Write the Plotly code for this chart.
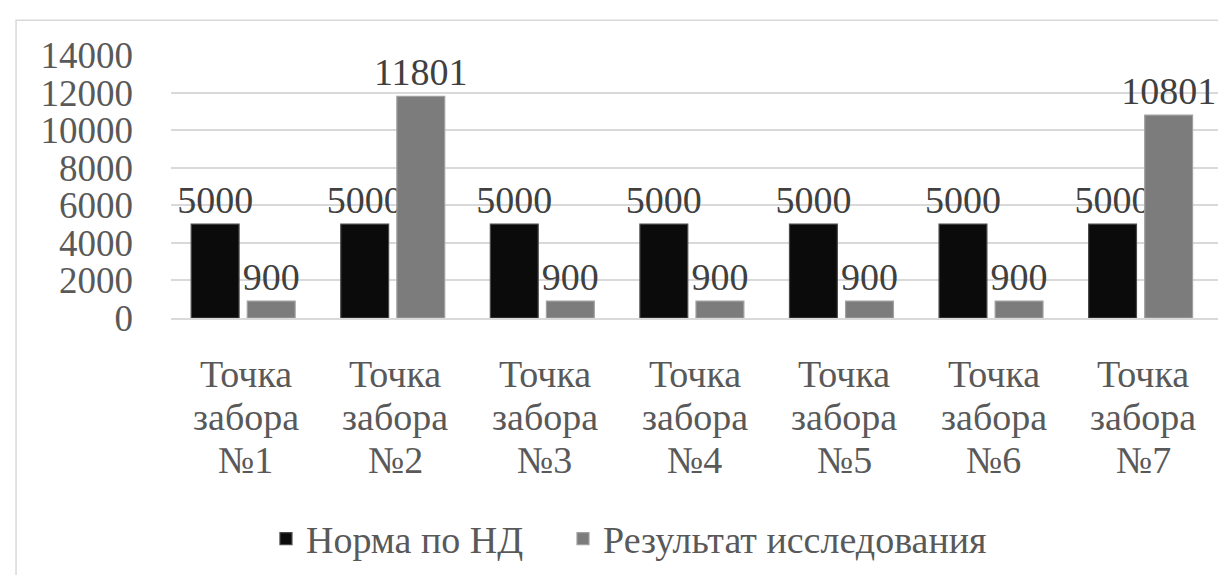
import plotly.graph_objects as go

# sampling points and the two series
categories = ["Точка<br>забора<br>№1", "Точка<br>забора<br>№2", "Точка<br>забора<br>№3",
              "Точка<br>забора<br>№4", "Точка<br>забора<br>№5", "Точка<br>забора<br>№6",
              "Точка<br>забора<br>№7"]
norm_values = [5000, 5000, 5000, 5000, 5000, 5000, 5000]
result_values = [900, 11801, 900, 900, 900, 900, 10801]
series_names = ["Норма по НД", "Результат исследования"]
y_ticks = [0, 2000, 4000, 6000, 8000, 10000, 12000, 14000]

FONT = "Liberation Serif"

fig = go.Figure()
fig.add_trace(go.Bar(
    x=categories, y=norm_values, name=series_names[0], legend="legend",
    marker=dict(color="#0b0b0b", line=dict(color="#4a4a4a", width=1.2)),
    text=norm_values, textposition="outside", constraintext="none", cliponaxis=False,
    textfont=dict(family=FONT, size=38, color="#404040"),
    width=0.32, offset=-0.365,
))
fig.add_trace(go.Bar(
    x=categories, y=result_values, name=series_names[1], legend="legend2",
    marker=dict(color="#7c7c7c", line=dict(color="#a0a0a0", width=1.2)),
    text=result_values, textposition="outside", constraintext="none", cliponaxis=False,
    textfont=dict(family=FONT, size=38, color="#404040"),
    width=0.32, offset=0.01,
))

# category labels: Excel spaces the wrapped lines tighter than plotly ticks do
annotations = []
for cat in categories:
    for i, line in enumerate(cat.split("<br>")):
        annotations.append(dict(x=cat, y=0, xref="x", yref="paper", text=line,
                                showarrow=False, yanchor="middle", yshift=-(56 + 43 * i),
                                font=dict(family=FONT, size=38, color="#595959")))

legend_style = dict(orientation="h", xanchor="left", y=-0.72, yanchor="top",
                    font=dict(family=FONT, size=38, color="#595959"),
                    itemwidth=30, bgcolor="rgba(0,0,0,0)")

my_layout = go.Layout()
my_layout.width = 1226
my_layout.height = 575
my_layout.margin = {"l": 163, "r": 16, "t": 47, "b": 255}
my_layout.paper_bgcolor = "white"
my_layout.plot_bgcolor = "white"
my_layout.font = dict(family=FONT, size=38, color="#595959")
my_layout.showlegend = True
my_layout.legend = dict(x=0.0907, **legend_style)
my_layout.legend2 = dict(x=0.3744, **legend_style)
my_layout.yaxis = dict(range=[0, 14000], tickvals=y_ticks, ticktext=[str(v) for v in y_ticks],
                       showgrid=True, gridcolor="#d9d9d9", gridwidth=1.5, zeroline=False,
                       showline=False, ticks="", ticklabelstandoff=37,
                       tickfont=dict(family=FONT, size=37, color="#595959"))
my_layout.xaxis = dict(showline=True, linecolor="#d9d9d9", linewidth=1.5, ticks="",
                       showticklabels=False)
my_layout.annotations = annotations
# chart area border
my_layout.shapes = [dict(type="rect", xref="paper", yref="paper", x0=-0.148, x1=1.2,
                         y0=-1.5, y1=1.132, line=dict(color="#d9d9d9", width=1.5),
                         fillcolor="rgba(0,0,0,0)", layer="below")]

fig.update_layout(my_layout)
fig.write_html("out.html")
